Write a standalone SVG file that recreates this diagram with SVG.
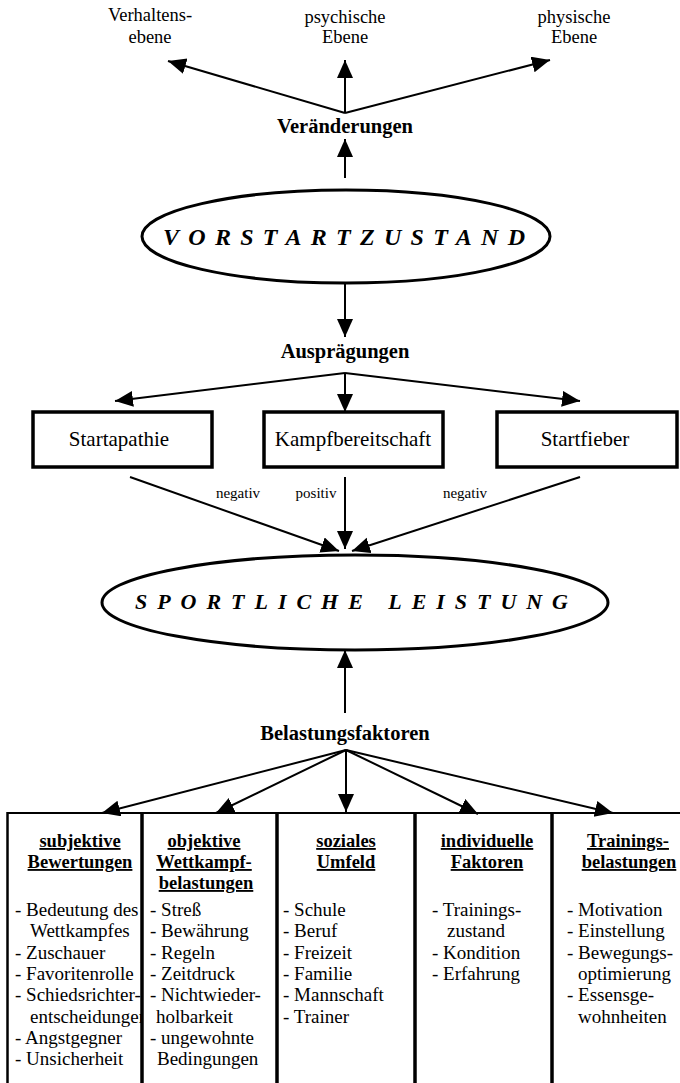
<svg xmlns="http://www.w3.org/2000/svg" width="680" height="1083" viewBox="0 0 680 1083" font-family="'Liberation Serif', 'DejaVu Serif', serif">
<defs>
<style>
text{font-family:'Liberation Serif','DejaVu Serif','Times New Roman',serif;fill:#000}
.lbl{font-size:18.5px;text-anchor:middle}
.bold{font-size:20.5px;font-weight:bold;text-anchor:middle}
.box{font-size:21px;text-anchor:middle}
.sm{font-size:15px;text-anchor:middle}
.big{font-weight:bold;font-style:italic}
.hd{font-size:18.5px;font-weight:bold;text-anchor:middle;text-decoration:underline}
.it{font-size:19px}
.ln{stroke:#000;stroke-width:2;fill:none}
.rect{stroke:#000;stroke-width:3.5;fill:#fff}
.ell{stroke:#000;stroke-width:3;fill:#fff}
.col{stroke:#000;stroke-width:3.5}
</style>
<marker id="ah" markerUnits="userSpaceOnUse" markerWidth="19" markerHeight="17" refX="18" refY="8" orient="auto">
<path d="M0,0 L18,8 L0,16 z" fill="#000"/>
</marker>
<clipPath id="c1"><rect x="0" y="813" width="141" height="270"/></clipPath>
</defs>

<g id="connectors">
<line class="ln" x1="345" y1="113" x2="168" y2="61" marker-end="url(#ah)"/>
<line class="ln" x1="345" y1="113" x2="345" y2="60" marker-end="url(#ah)"/>
<line class="ln" x1="345" y1="113" x2="550" y2="60" marker-end="url(#ah)"/>
<line class="ln" x1="345" y1="178" x2="345" y2="139" marker-end="url(#ah)"/>
<line class="ln" x1="345" y1="284" x2="345" y2="337" marker-end="url(#ah)"/>
<line class="ln" x1="345" y1="373" x2="115" y2="401" marker-end="url(#ah)"/>
<line class="ln" x1="345" y1="373" x2="345" y2="412" marker-end="url(#ah)"/>
<line class="ln" x1="345" y1="373" x2="580" y2="401" marker-end="url(#ah)"/>
<line class="ln" x1="130" y1="477" x2="339" y2="551" marker-end="url(#ah)"/>
<line class="ln" x1="345" y1="477" x2="345" y2="549" marker-end="url(#ah)"/>
<line class="ln" x1="580" y1="477" x2="352" y2="551" marker-end="url(#ah)"/>
<line class="ln" x1="345" y1="713" x2="345" y2="650" marker-end="url(#ah)"/>
<line class="ln" x1="346" y1="750" x2="102" y2="813" marker-end="url(#ah)"/>
<line class="ln" x1="346" y1="750" x2="216" y2="813" marker-end="url(#ah)"/>
<line class="ln" x1="346" y1="750" x2="346" y2="812" marker-end="url(#ah)"/>
<line class="ln" x1="346" y1="750" x2="478" y2="814" marker-end="url(#ah)"/>
<line class="ln" x1="346" y1="750" x2="613" y2="813" marker-end="url(#ah)"/>
<text class="sm" x="238" y="498">negativ</text>
<text class="sm" x="316" y="498">positiv</text>
<text class="sm" x="465" y="498">negativ</text>
</g>

<g id="verhaltensebene">
<text class="lbl" x="150" y="21">Verhaltens-</text>
<text class="lbl" x="150" y="43">ebene</text>
</g>
<g id="psychische-ebene">
<text class="lbl" x="345" y="23">psychische</text>
<text class="lbl" x="345" y="43">Ebene</text>
</g>
<g id="physische-ebene">
<text class="lbl" x="574" y="23">physische</text>
<text class="lbl" x="574" y="43">Ebene</text>
</g>
<g id="veraenderungen">
<text class="bold" x="345" y="133">Veränderungen</text>
</g>
<g id="vorstartzustand">
<ellipse class="ell" cx="346" cy="236.5" rx="204" ry="46.5"/>
<text class="big" x="163" y="245" font-size="24" textLength="362" lengthAdjust="spacing">VORSTARTZUSTAND</text>
</g>
<g id="auspraegungen">
<text class="bold" x="345" y="358">Ausprägungen</text>
</g>
<g id="startapathie">
<rect class="rect" x="33" y="412" width="179" height="55"/>
<text class="box" x="119" y="446">Startapathie</text>
</g>
<g id="kampfbereitschaft">
<rect class="rect" x="264" y="412" width="179" height="55"/>
<text class="box" x="353" y="446">Kampfbereitschaft</text>
</g>
<g id="startfieber">
<rect class="rect" x="497" y="412" width="180" height="55"/>
<text class="box" x="585" y="446">Startfieber</text>
</g>
<g id="sportliche-leistung">
<ellipse class="ell" cx="355" cy="602.5" rx="253" ry="47.5"/>
<text class="big" x="135" y="609" font-size="22" textLength="433" lengthAdjust="spacing">SPORTLICHE LEISTUNG</text>
</g>
<g id="belastungsfaktoren">
<text class="bold" x="345" y="740">Belastungsfaktoren</text>
</g>

<g id="col-subjektive" clip-path="url(#c1)">
<text class="hd" x="80" y="847">subjektive</text>
<text class="hd" x="80" y="868">Bewertungen</text>
<text class="it" x="15" y="916">- Bedeutung des</text>
<text class="it" x="30" y="937">Wettkampfes</text>
<text class="it" x="15" y="958.5">- Zuschauer</text>
<text class="it" x="15" y="980">- Favoritenrolle</text>
<text class="it" x="15" y="1001">- Schiedsrichter-</text>
<text class="it" x="30" y="1022.5">entscheidungen</text>
<text class="it" x="15" y="1044">- Angstgegner</text>
<text class="it" x="15" y="1065">- Unsicherheit</text>
</g>
<g id="col-objektive">
<text class="hd" x="204" y="847">objektive</text>
<text class="hd" x="204" y="868">Wettkampf-</text>
<text class="hd" x="206" y="889">belastungen</text>
<text class="it" x="150" y="916">- Streß</text>
<text class="it" x="150" y="937">- Bewährung</text>
<text class="it" x="150" y="958.5">- Regeln</text>
<text class="it" x="150" y="980">- Zeitdruck</text>
<text class="it" x="150" y="1001">- Nichtwieder-</text>
<text class="it" x="156" y="1022.5">holbarkeit</text>
<text class="it" x="150" y="1044">- ungewohnte</text>
<text class="it" x="157" y="1065">Bedingungen</text>
</g>
<g id="col-soziales">
<text class="hd" x="346" y="847">soziales</text>
<text class="hd" x="346" y="868">Umfeld</text>
<text class="it" x="283" y="916">- Schule</text>
<text class="it" x="283" y="937">- Beruf</text>
<text class="it" x="283" y="958.5">- Freizeit</text>
<text class="it" x="283" y="980">- Familie</text>
<text class="it" x="283" y="1001">- Mannschaft</text>
<text class="it" x="283" y="1022.5">- Trainer</text>
</g>
<g id="col-individuelle">
<text class="hd" x="487" y="847">individuelle</text>
<text class="hd" x="487" y="868">Faktoren</text>
<text class="it" x="432" y="916">- Trainings-</text>
<text class="it" x="447" y="937">zustand</text>
<text class="it" x="432" y="958.5">- Kondition</text>
<text class="it" x="432" y="980">- Erfahrung</text>
</g>
<g id="col-training">
<text class="hd" x="628" y="847">Trainings-</text>
<text class="hd" x="629" y="868">belastungen</text>
<text class="it" x="567" y="916">- Motivation</text>
<text class="it" x="567" y="937">- Einstellung</text>
<text class="it" x="567" y="958.5">- Bewegungs-</text>
<text class="it" x="578" y="980">optimierung</text>
<text class="it" x="567" y="1001">- Essensge-</text>
<text class="it" x="578" y="1022.5">wohnheiten</text>
</g>
<g id="table-lines">
<line x1="7" y1="813" x2="680" y2="813" stroke="#000" stroke-width="2"/>
<line x1="7.5" y1="812" x2="7.5" y2="1083" stroke="#000" stroke-width="2.5"/>
<line class="col" x1="142" y1="812" x2="142" y2="1083"/>
<line class="col" x1="277" y1="812" x2="277" y2="1083"/>
<line class="col" x1="415" y1="812" x2="415" y2="1083"/>
<line class="col" x1="552" y1="812" x2="552" y2="1083"/>
</g>
</svg>
